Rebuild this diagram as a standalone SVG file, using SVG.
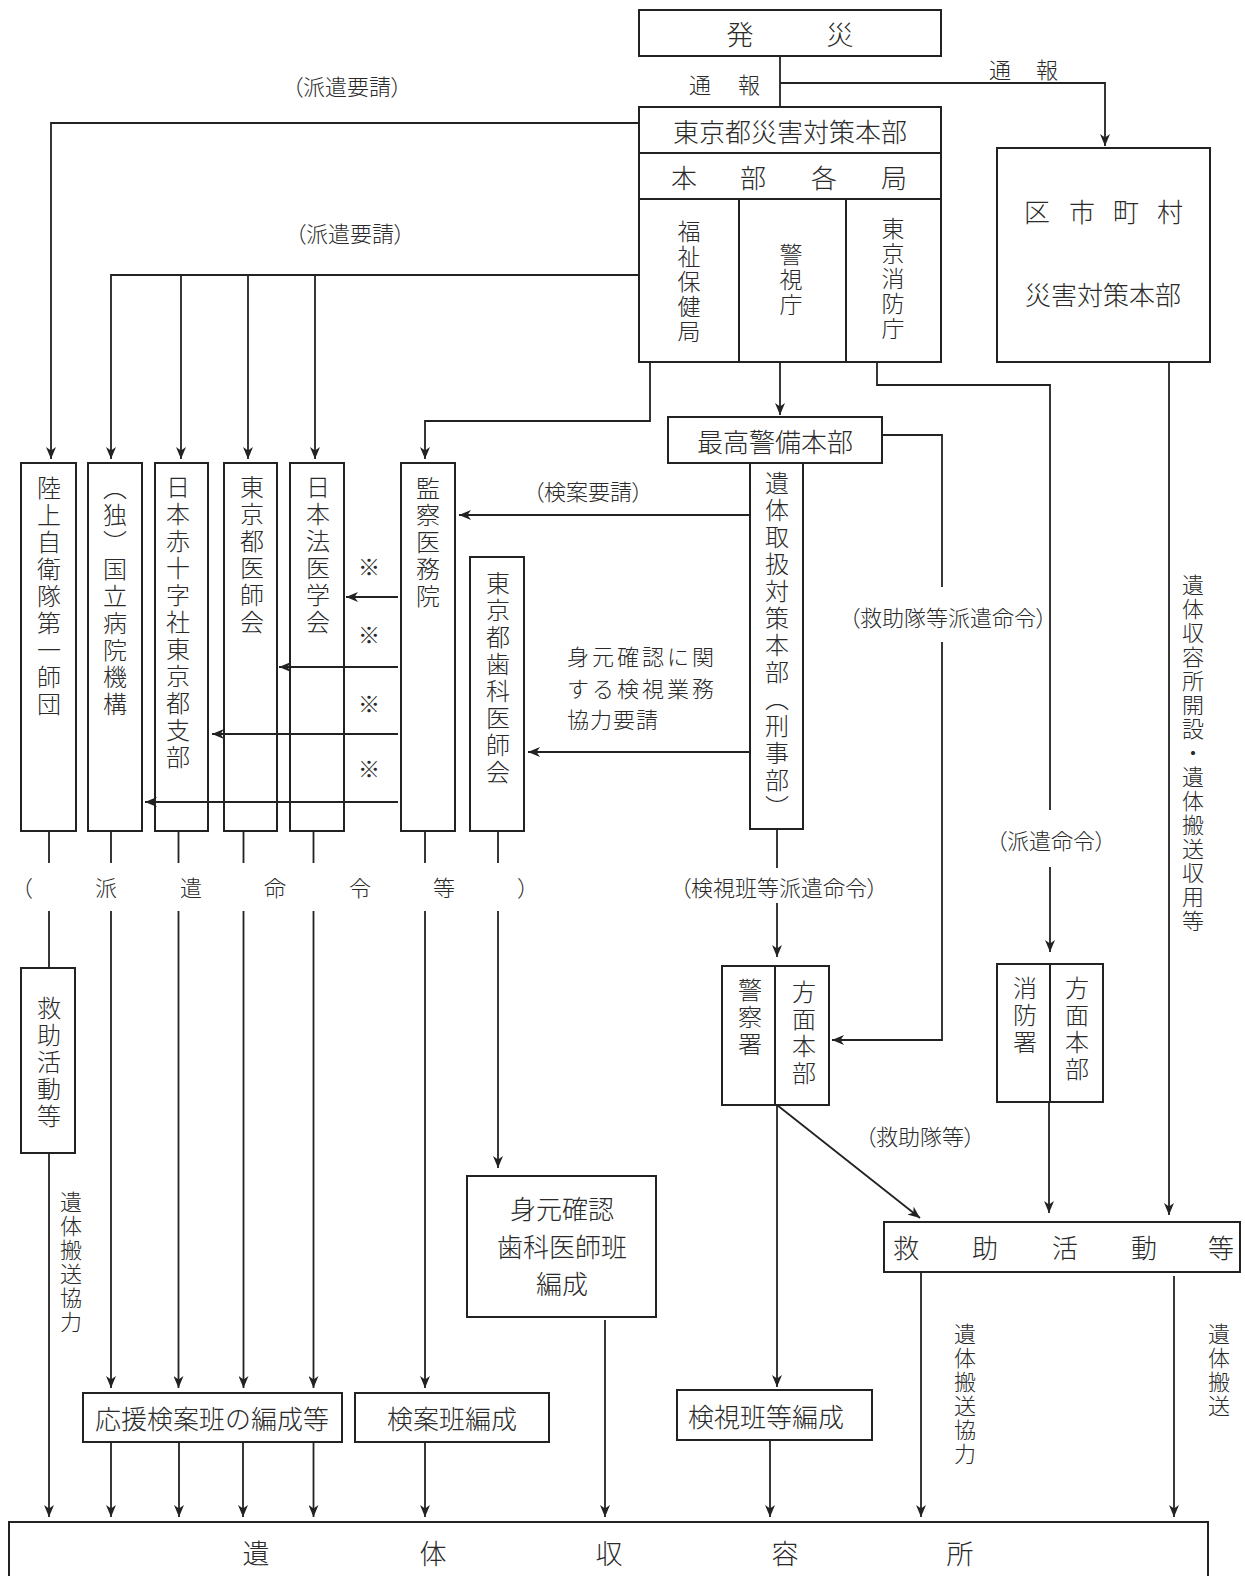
<svg xmlns="http://www.w3.org/2000/svg" width="1245" height="1576" viewBox="0 0 1245 1576">
<style>
.box{fill:none;stroke:#222;stroke-width:2}
.ln{fill:none;stroke:#222;stroke-width:1.8}
.ar{marker-end:url(#ah)}
text{font-family:"Noto Sans CJK JP","Noto Sans CJK SC",sans-serif;fill:#2a2a2a;font-weight:300}
.h{text-anchor:middle;dominant-baseline:central}
.s{text-anchor:start;dominant-baseline:central}
.f26{font-size:26px}
.f22{font-size:22px;font-feature-settings:"palt"}
.f22n{font-size:22px}
.v{writing-mode:vertical-rl;font-size:24px;letter-spacing:3px}
.v23{writing-mode:vertical-rl;font-size:23px;letter-spacing:2px}
.v22{writing-mode:vertical-rl;font-size:22px;letter-spacing:2px}
</style>
<defs>
<marker id="ah" viewBox="0 0 12 10" refX="12" refY="5" markerWidth="12" markerHeight="10" markerUnits="userSpaceOnUse" orient="auto">
<path d="M0,0 L12,5 L0,10 L3.5,5 z" fill="#222"/>
</marker>
</defs>
<rect width="1245" height="1576" fill="#fff"/>

<g id="connectors">
<path class="ln" d="M780,56 V107"/>
<path class="ln ar" d="M780,83 H1105 V146"/>
<path class="ln ar" d="M639,123 H51 V459"/>
<path class="ln ar" d="M639,275 H111 V459"/>
<path class="ln ar" d="M181,275 V459"/>
<path class="ln ar" d="M248,275 V459"/>
<path class="ln ar" d="M315,275 V459"/>
<path class="ln ar" d="M650,362 V421 H425 V459"/>
<path class="ln ar" d="M780,362 V415"/>
<path class="ln" d="M877,362 V385 H1050 V810"/>
<path class="ln ar" d="M1050,867 V952"/>
<path class="ln" d="M882,435 H942 V587"/>
<path class="ln ar" d="M942,642 V1040 H832"/>
<path class="ln ar" d="M1169,362 V1215"/>
<path class="ln ar" d="M750,515 H459"/>
<path class="ln ar" d="M750,752 H528"/>
<path class="ln ar" d="M398,597 H346"/>
<path class="ln ar" d="M398,667 H279"/>
<path class="ln ar" d="M398,734 H212"/>
<path class="ln ar" d="M398,802 H145"/>
<path class="ln" d="M777,829 V868"/>
<path class="ln ar" d="M777,903 V957"/>
<path class="ln" d="M49,831 V863 M111,831 V863 M178.5,831 V863 M243.5,831 V863 M313.5,831 V863 M425,831 V863 M498,831 V863"/>
<path class="ln" d="M49,911 V968"/>
<path class="ln ar" d="M49,1153 V1517"/>
<path class="ln ar" d="M111,911 V1388"/>
<path class="ln ar" d="M178.5,911 V1388"/>
<path class="ln ar" d="M243.5,911 V1388"/>
<path class="ln ar" d="M313.5,911 V1388"/>
<path class="ln ar" d="M425,911 V1388"/>
<path class="ln ar" d="M498,911 V1168"/>
<path class="ln ar" d="M111,1442 V1517"/>
<path class="ln ar" d="M179,1442 V1517"/>
<path class="ln ar" d="M243,1442 V1517"/>
<path class="ln ar" d="M313.5,1442 V1517"/>
<path class="ln ar" d="M425,1442 V1517"/>
<path class="ln ar" d="M605,1320 V1517"/>
<path class="ln ar" d="M777,1105 V1387"/>
<path class="ln ar" d="M777,1105 L920,1218"/>
<path class="ln ar" d="M1049,1102 V1213"/>
<path class="ln ar" d="M770,1440 V1517"/>
<path class="ln ar" d="M921,1272 V1517"/>
<path class="ln ar" d="M1174,1276 V1517"/>
</g>

<g id="labels">
<text class="f22n" x="700 724.5 749" y="83" text-anchor="middle" dominant-baseline="central">通　報</text>
<text class="f22n" x="1000 1023.5 1047" y="68" text-anchor="middle" dominant-baseline="central">通　報</text>
<text class="h f22" x="347" y="85">（派遣要請）</text>
<text class="h f22" x="350" y="232">（派遣要請）</text>
<text class="h f22" x="588" y="490">（検案要請）</text>
<text class="s f22n" x="567" y="655" letter-spacing="3">身元確認に関</text>
<text class="s f22n" x="567" y="687" letter-spacing="3">する検視業務</text>
<text class="s f22n" x="567" y="718" letter-spacing="1">協力要請</text>
<text class="h f22" x="948" y="616">（救助隊等派遣命令）</text>
<text class="h f22" x="1051" y="839">（派遣命令）</text>
<text class="h f22" x="779" y="886">（検視班等派遣命令）</text>
<text class="h f22" x="920" y="1135">（救助隊等）</text>
<text class="h f22n" x="369" y="565">※</text>
<text class="h f22n" x="369" y="633">※</text>
<text class="h f22n" x="369" y="702">※</text>
<text class="h f22n" x="369" y="767">※</text>
<text class="f22n" x="22 67 106 148 191 233 275 317 360 402 444 483 528" y="886" text-anchor="middle" dominant-baseline="central">（　派　遣　命　令　等　）</text>
<text class="v22" x="1193" y="574">遺体収容所開設・遺体搬送収用等</text>
<text class="v22" x="71" y="1191">遺体搬送協力</text>
<text class="v22" x="965" y="1323">遺体搬送協力</text>
<text class="v22" x="1219" y="1323">遺体搬送</text>
</g>

<g id="n-hassai">
<rect class="box" x="639" y="10" width="302" height="46"/>
<text x="740 773 807 840" y="33" font-size="27" text-anchor="middle" dominant-baseline="central">発　　災</text>
</g>

<g id="n-tokyo-honbu">
<rect class="box" x="639" y="107" width="302" height="255"/>
<path class="box" d="M639,153 H941 M639,199 H941 M739,199 V362 M846,199 V362"/>
<text class="h f26" x="790" y="130">東京都災害対策本部</text>
<text class="f26" x="684 718.5 753 788.5 824 859 894" y="176" text-anchor="middle" dominant-baseline="central">本　部　各　局</text>
<text class="v23" x="689" y="220">福祉保健局</text>
<text class="v23" x="791" y="243">警視庁</text>
<text class="v23" x="893" y="217">東京消防庁</text>
</g>

<g id="n-kushichoson">
<rect class="box" x="997" y="148" width="213" height="214"/>
<text class="f26" x="1037 1059.5 1082 1104 1126 1148 1170" y="210" text-anchor="middle" dominant-baseline="central">区　市　町　村</text>
<text class="h f26" x="1103" y="293">災害対策本部</text>
</g>

<g id="n-saiko">
<rect class="box" x="668" y="417" width="214" height="46"/>
<text class="h f26" x="775" y="440">最高警備本部</text>
</g>

<g id="n-itai-toriatsukai">
<rect class="box" x="750" y="463" width="53" height="366"/>
<text class="v" x="777" y="471">遺体取扱対策本部（刑事部）</text>
</g>

<g id="n-rikujo">
<rect class="box" x="21" y="463" width="55" height="368"/>
<text class="v" x="49" y="476">陸上自衛隊第一師団</text>
</g>
<g id="n-kokuritsu">
<rect class="box" x="88" y="463" width="54" height="368"/>
<text class="v" x="115" y="476">（独）国立病院機構</text>
</g>
<g id="n-nisseki">
<rect class="box" x="155" y="463" width="53" height="368"/>
<text class="v" x="178" y="475">日本赤十字社東京都支部</text>
</g>
<g id="n-toishikai">
<rect class="box" x="224" y="463" width="53" height="368"/>
<text class="v" x="252" y="475">東京都医師会</text>
</g>
<g id="n-hoigaku">
<rect class="box" x="290" y="463" width="54" height="368"/>
<text class="v" x="318" y="475">日本法医学会</text>
</g>
<g id="n-kansatsu">
<rect class="box" x="401" y="463" width="54" height="368"/>
<text class="v" x="428" y="476">監察医務院</text>
</g>
<g id="n-shika">
<rect class="box" x="470" y="557" width="54" height="274"/>
<text class="v" x="498" y="571">東京都歯科医師会</text>
</g>

<g id="n-kyujo-left">
<rect class="box" x="21" y="968" width="54" height="185"/>
<text class="v" x="49" y="996">救助活動等</text>
</g>

<g id="n-mimoto">
<rect class="box" x="467" y="1176" width="189" height="141"/>
<text class="f26" text-anchor="middle" dominant-baseline="central"><tspan x="562" y="1207">身元確認</tspan><tspan x="562" y="1245">歯科医師班</tspan><tspan x="562" y="1282">編成</tspan></text>
</g>

<g id="n-keisatsu">
<rect class="box" x="722" y="966" width="107" height="139"/>
<path class="box" d="M775,966 V1105"/>
<text class="v" x="750" y="978">警察署</text>
<text class="v" x="804" y="980">方面本部</text>
</g>

<g id="n-shobo">
<rect class="box" x="997" y="964" width="106" height="138"/>
<path class="box" d="M1050,964 V1102"/>
<text class="v" x="1025" y="976">消防署</text>
<text class="v" x="1077" y="976">方面本部</text>
</g>

<g id="n-kyujo">
<rect class="box" x="884" y="1222" width="356" height="50"/>
<text class="f26" x="906 945.5 985 1025 1065 1104.5 1144 1182.5 1221" y="1246" text-anchor="middle" dominant-baseline="central">救　助　活　動　等</text>
</g>

<g id="n-oen">
<rect class="box" x="83" y="1393" width="259" height="49"/>
<text class="h f26" x="212" y="1417">応援検案班の編成等</text>
</g>
<g id="n-kenan">
<rect class="box" x="355" y="1393" width="194" height="49"/>
<text class="h f26" x="452" y="1417">検案班編成</text>
</g>
<g id="n-kenshi">
<rect class="box" x="677" y="1390" width="195" height="50"/>
<text class="h f26" x="766" y="1415">検視班等編成</text>
</g>

<g id="n-itai-shuyo">
<path class="box" d="M9,1580 V1522 H1208 V1580"/>
<text x="256 344.5 433 521 609 697 785 872.5 960" y="1552" font-size="27" text-anchor="middle" dominant-baseline="central">遺　体　収　容　所</text>
</g>
</svg>
